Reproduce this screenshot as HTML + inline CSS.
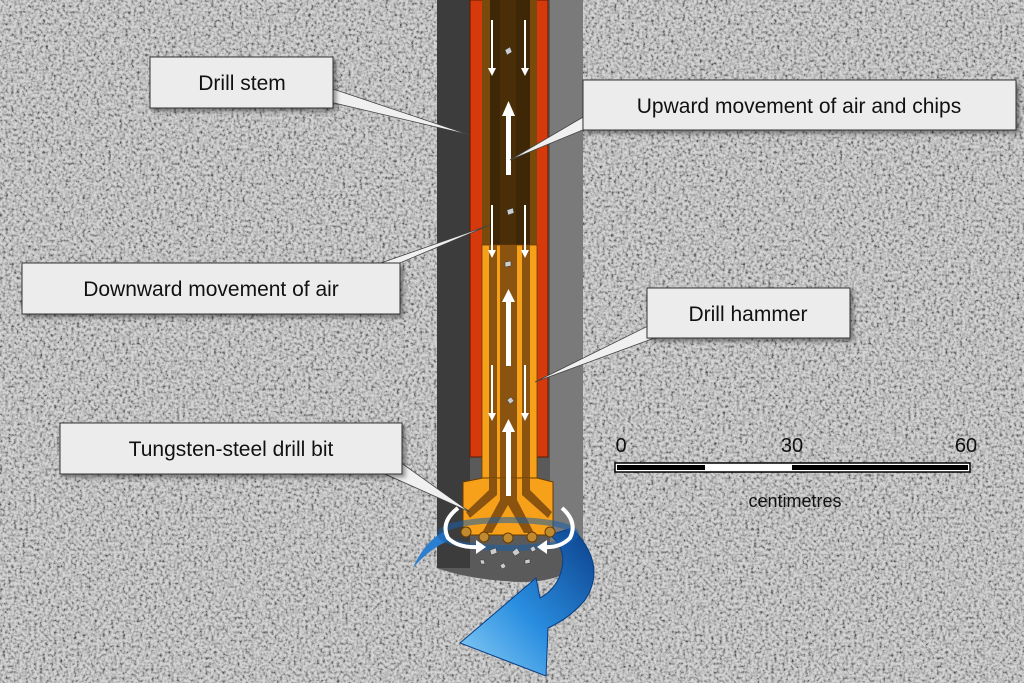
<!DOCTYPE html>
<html><head><meta charset="utf-8"><style>
html,body{margin:0;padding:0;width:1024px;height:683px;overflow:hidden;background:#a9a9a9}
svg{display:block}
text{font-family:"Liberation Sans",sans-serif}
</style></head><body>
<svg width="1024" height="683" viewBox="0 0 1024 683">
<defs>
<filter id="noise" x="0" y="0" width="100%" height="100%">
<feTurbulence type="fractalNoise" baseFrequency="0.35" numOctaves="3" seed="3" result="t"/>
<feColorMatrix in="t" type="matrix" values="2.4 0 0 0 -0.55  2.4 0 0 0 -0.55  2.4 0 0 0 -0.55  0 0 0 0 1"/>
</filter>
<linearGradient id="blue2" x1="1" y1="0" x2="0" y2="1">
<stop offset="0" stop-color="#0b3f8a"/><stop offset="0.55" stop-color="#2a8ee0"/><stop offset="1" stop-color="#8fd2f7"/></linearGradient>
<filter id="sh"><feDropShadow dx="3" dy="3" stdDeviation="2" flood-opacity="0.4"/></filter>
</defs>
<rect width="1024" height="683" fill="#aaa"/>
<rect width="1024" height="683" filter="url(#noise)" opacity="0.5"/>
<!-- borehole -->
<path d="M437 0 H583 V560 Q565 582 520 582 Q470 580 437 568 Z" fill="#5a5a5a"/>
<rect x="437" y="0" width="33" height="568" fill="#3c3c3c"/>
<rect x="550" y="0" width="33" height="545" fill="#7a7a7a"/>
<!-- blue arrow (behind) -->
<path d="M413 568 Q425 540 447 530 L450 540 Q430 548 413 568 Z" fill="#2a7fd0"/>
<path d="M572 528 Q608 565 585 600 Q570 618 548 628 L546 676 L460 643 L536 578 L540 598 Q558 588 562 568 Q566 548 550 535 Z" fill="url(#blue2)" stroke="#0a3f86" stroke-width="1"/>
<!-- red casing -->
<rect x="470" y="0" width="78" height="457" fill="#d63a0c" stroke="#5a1a00"/>
<!-- upper stem interior -->
<rect x="482" y="0" width="55" height="245" fill="#7a4a0c"/>
<rect x="490" y="0" width="40" height="245" fill="#3e2706"/>
<rect x="500" y="0" width="16" height="245" fill="#4a2e08"/>
<!-- hammer interior -->
<rect x="482" y="245" width="55" height="240" fill="#f7a11a" stroke="#6a3c00" stroke-width="0.8"/>
<rect x="489" y="245" width="8" height="240" fill="#8a5410"/>
<rect x="522" y="245" width="8" height="240" fill="#8a5410"/>
<rect x="500" y="245" width="17" height="240" fill="#8a5410"/>
<!-- bit -->
<path d="M483 478 L463 482 L463 535 L553 535 L553 482 L537 478 Z" fill="#f7a11a" stroke="#6a3c00"/>
<path d="M489 478 L489 490 L466 512 L470 518 L497 495 L497 478 Z" fill="#8a5410"/>
<path d="M530 478 L530 490 L552 512 L548 518 L522 495 L522 478 Z" fill="#8a5410"/>
<path d="M500 478 V500 L482 533 H492 L508 505 L524 533 H534 L517 500 V478 Z" fill="#8a5410"/>
<g fill="#c08a30" stroke="#6a3c00"><circle cx="466" cy="532" r="5"/><circle cx="484" cy="537" r="5"/><circle cx="508" cy="538" r="5"/><circle cx="532" cy="537" r="5"/><circle cx="550" cy="532" r="5"/></g>
<!-- translucent ring -->
<ellipse cx="508" cy="534" rx="68" ry="14" fill="none" stroke="#1a5fa8" stroke-width="6" opacity="0.55"/>
<!-- chips -->
<g fill="#ccc" stroke="#333" stroke-width="0.5">
<path d="M505 50l5-3 2 5-5 3z"/><path d="M507 210l6-2 1 5-6 2z"/><path d="M505 262l6-1 0 5-6 1z"/><path d="M507 400l4-3 3 4-4 3z"/>
<path d="M490 550l6-2 1 5-6 2z"/><path d="M512 552l5-4 3 5-5 3z"/><path d="M525 560l5-1 0 4-5 1z"/><path d="M500 565l4-2 2 4-4 2z"/><path d="M480 560l4 0 1 4-4 0z"/><path d="M530 548l4-2 2 4-4 2z"/>
</g>
<!-- arrows -->
<g fill="#fff">
<rect x="491" y="20" width="2" height="50"/><path d="M488 68h8l-4 8z"/>
<rect x="524" y="20" width="2" height="50"/><path d="M521 68h8l-4 8z"/>
<rect x="506" y="115" width="5" height="60"/><path d="M502 116h13l-6.5-15z"/>
<rect x="491" y="205" width="2" height="50"/><path d="M488 250h8l-4 8z"/>
<rect x="524" y="205" width="2" height="50"/><path d="M521 250h8l-4 8z"/>
<rect x="506" y="300" width="5" height="66"/><path d="M502 302h13l-6.5-13z"/>
<rect x="491" y="365" width="2" height="50"/><path d="M488 413h8l-4 8z"/>
<rect x="524" y="365" width="2" height="50"/><path d="M521 413h8l-4 8z"/>
<rect x="506" y="430" width="5" height="66"/><path d="M502 432h13l-6.5-13z"/>
</g>
<!-- swirl arrows -->
<g fill="none" stroke="#fff" stroke-width="4">
<path d="M458 508 Q440 522 448 538 Q458 548 478 547"/>
<path d="M562 508 Q578 522 570 538 Q560 548 545 547"/>
</g>
<g fill="#fff"><path d="M476 540 L486 547 L476 554 Z"/><path d="M547 540 L537 547 L547 554 Z"/></g>
<!-- pointers -->
<g fill="#f0f0f0" stroke="#444" stroke-width="0.8">
<path d="M330 88 L330 102 L470 135 Z"/>
<path d="M590 113 L590 127 L510 160 Z"/>
<path d="M375 265 L395 265 L490 225 Z"/>
<path d="M660 320 L660 336 L535 382 Z"/>
<path d="M385 474 L400 462 L470 512 Z"/>
</g>
<!-- label boxes -->
<g filter="url(#sh)" fill="#ececec" stroke="#333" stroke-width="1">
<rect x="150" y="57" width="183" height="51"/>
<rect x="583" y="80" width="433" height="50"/>
<rect x="22" y="263" width="378" height="51"/>
<rect x="647" y="288" width="203" height="50"/>
<rect x="60" y="423" width="342" height="51"/>
</g>
<g font-size="21" fill="#111" text-anchor="middle">
<text x="242" y="90">Drill stem</text>
<text x="799" y="113">Upward movement of air and chips</text>
<text x="211" y="296">Downward movement of air</text>
<text x="748" y="321">Drill hammer</text>
<text x="231" y="456">Tungsten-steel drill bit</text>
</g>
<!-- scale bar -->
<rect x="615" y="463" width="355" height="9" fill="#fff" stroke="#000" stroke-width="1.5"/>
<rect x="617" y="465" width="88" height="5" fill="#000"/>
<rect x="792" y="465" width="176" height="5" fill="#000"/>
<g font-size="20" fill="#111" text-anchor="middle">
<text x="621" y="452">0</text><text x="792" y="452">30</text><text x="966" y="452">60</text>
<text x="795" y="507" font-size="18">centimetres</text>
</g>
</svg>
</body></html>
